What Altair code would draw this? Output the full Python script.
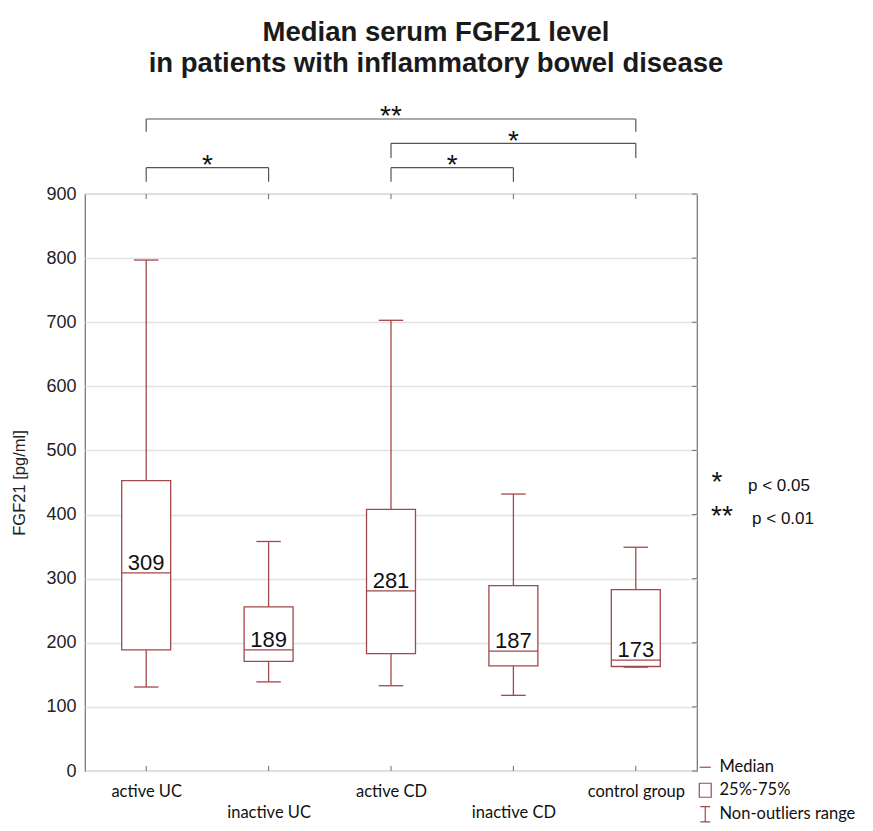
import altair as alt
import pandas as pd

# ---------------- data ----------------
categories = ["active UC", "inactive UC", "active CD", "inactive CD", "control group"]
whisker_low = [131, 139, 133, 118, 162]
q1 = [189, 171, 183, 164, 163]
median = [309, 189, 281, 187, 173]
q3 = [453, 256, 408, 289, 283]
whisker_high = [797, 358, 703, 432, 349]

# significance brackets (index of group pairs) and their labels
bracket_from = [0, 2, 2, 0]
bracket_to = [1, 3, 4, 4]
bracket_label = ["*", "*", "*", "**"]

sig_symbols = ["*", "**"]
sig_texts = ["p < 0.05", "p < 0.01"]

legend_labels = ["Median", "25%-75%", "Non-outliers range"]

y_ticks = [0, 100, 200, 300, 400, 500, 600, 700, 800, 900]

# ---------------- layout/style ----------------
RED = "#a3474a"
FRAME = "#6f6f6f"
W, H = 612, 577
BOX_HALF = 0.2
CAP_HALF = 0.1
bracket_level = [941, 941, 979, 1017]
bracket_end = [919, 919, 956, 997]
star_y = [931, 931, 969, 1008]

pos = list(range(len(categories)))
df = pd.DataFrame({
    "pos": pos, "cat": categories, "low": whisker_low, "q1": q1,
    "med": median, "q3": q3, "high": whisker_high,
})
df["xl"] = df["pos"] - BOX_HALF
df["xr"] = df["pos"] + BOX_HALF
df["cl"] = df["pos"] - CAP_HALF
df["cr"] = df["pos"] + CAP_HALF

xscale = alt.Scale(domain=[-0.5, 4.5], nice=False, zero=False)
yscale = alt.Scale(domain=[0, 900], nice=False, zero=False)

names_js = "[" + ",".join("'" + c + "'" for c in categories) + "]"
label_expr = (f"datum.value % 2 == 1 ? ['', {names_js}[datum.value]] : "
              f"{names_js}[datum.value]")

xaxis = alt.Axis(values=pos, labelExpr=label_expr, title=None, grid=False,
                 ticks=False, domain=False, labelFont="Lato", labelFontSize=16.5,
                 labelColor="#111", labelPadding=12, labelLineHeight=21,
                 labelBaseline="top", labelAngle=0)
yaxis = alt.Axis(values=y_ticks, title="FGF21 [pg/ml]", grid=True,
                 gridColor="#e3e3e3", gridWidth=1.5, ticks=False, domain=False,
                 labelFont="Liberation Sans", labelFontSize=18, labelColor="#222",
                 labelPadding=9, titleFont="Liberation Sans", titleFontSize=16.5,
                 titleFontWeight="normal", titleColor="#222", titlePadding=18)

base = alt.Chart(df)

boxes = base.mark_rect(fill="white", stroke=RED, strokeWidth=1.3).encode(
    x=alt.X("xl:Q", scale=xscale, axis=xaxis), x2="xr:Q",
    y=alt.Y("q1:Q", scale=yscale, axis=yaxis), y2="q3:Q")
whisk_lo = base.mark_rule(color=RED, strokeWidth=1.3).encode(
    x=alt.X("pos:Q", scale=xscale), y=alt.Y("low:Q", scale=yscale), y2="q1:Q")
whisk_hi = base.mark_rule(color=RED, strokeWidth=1.3).encode(
    x=alt.X("pos:Q", scale=xscale), y=alt.Y("q3:Q", scale=yscale), y2="high:Q")
cap_lo = base.mark_rule(color=RED, strokeWidth=1.3).encode(
    x=alt.X("cl:Q", scale=xscale), x2="cr:Q", y=alt.Y("low:Q", scale=yscale))
cap_hi = base.mark_rule(color=RED, strokeWidth=1.3).encode(
    x=alt.X("cl:Q", scale=xscale), x2="cr:Q", y=alt.Y("high:Q", scale=yscale))
med_line = base.mark_rule(color=RED, strokeWidth=1.3).encode(
    x=alt.X("xl:Q", scale=xscale), x2="xr:Q", y=alt.Y("med:Q", scale=yscale))
med_text = base.mark_text(font="Liberation Sans", fontSize=22, color="#111",
                          baseline="alphabetic", dy=-3).encode(
    x=alt.X("pos:Q", scale=xscale), y=alt.Y("med:Q", scale=yscale),
    text="med:Q")

# inward ticks on the frame
tick_df = pd.DataFrame({"pos": pos})
xt_bottom = alt.Chart(tick_df).mark_rule(color=FRAME).encode(
    x=alt.X("pos:Q", scale=xscale), y=alt.datum(0, scale=yscale), y2=alt.datum(8))
xt_top = alt.Chart(tick_df).mark_rule(color=FRAME).encode(
    x=alt.X("pos:Q", scale=xscale), y=alt.datum(892, scale=yscale), y2=alt.datum(900))
ytick_df = pd.DataFrame({"v": y_ticks})
yt_right = alt.Chart(ytick_df).mark_rule(color=FRAME).encode(
    x=alt.datum(4.46, scale=xscale), x2=alt.datum(4.5),
    y=alt.Y("v:Q", scale=yscale))

# significance brackets
bdf = pd.DataFrame({"a": bracket_from, "b": bracket_to, "lab": bracket_label,
                    "lvl": bracket_level, "end": bracket_end, "sy": star_y})
bdf["mid"] = (bdf["a"] + bdf["b"]) / 2
bbase = alt.Chart(bdf)
b_h = bbase.mark_rule(color="#555", strokeWidth=1.2).encode(
    x=alt.X("a:Q", scale=xscale), x2="b:Q", y=alt.Y("lvl:Q", scale=yscale))
b_l = bbase.mark_rule(color="#555", strokeWidth=1.2).encode(
    x=alt.X("a:Q", scale=xscale), y=alt.Y("end:Q", scale=yscale), y2="lvl:Q")
b_r = bbase.mark_rule(color="#555", strokeWidth=1.2).encode(
    x=alt.X("b:Q", scale=xscale), y=alt.Y("end:Q", scale=yscale), y2="lvl:Q")
b_t = bbase.mark_text(font="Liberation Sans", fontSize=28, color="#111",
                      baseline="alphabetic").encode(
    x=alt.X("mid:Q", scale=xscale), y=alt.Y("sy:Q", scale=yscale), text="lab:N")

# significance key
sdf = pd.DataFrame({"sym": sig_symbols, "txt": sig_texts,
                    "sx": [4.663, 4.704], "sy": [436, 383],
                    "tx": [4.917, 4.95], "ty": [445, 393]})
s_sym = alt.Chart(sdf).mark_text(font="Liberation Sans", fontSize=28, color="#111",
                                 baseline="alphabetic").encode(
    x=alt.X("sx:Q", scale=xscale), y=alt.Y("sy:Q", scale=yscale), text="sym:N")
s_txt = alt.Chart(sdf).mark_text(font="Liberation Sans", fontSize=17, color="#111",
                                 baseline="middle", align="left").encode(
    x=alt.X("tx:Q", scale=xscale), y=alt.Y("ty:Q", scale=yscale), text="txt:N")

# box legend
ldf = pd.DataFrame({"item": legend_labels, "px": [0, 0, 0], "py": [0, 0, 0]})
shape_range = ["M-0.8,0H0.8", "M-0.85,-1H0.85V1H-0.85Z",
               "M-0.7,-1.1H0.7M0,-1.1V1.1M-0.7,1.1H0.7"]
leg = alt.Chart(ldf).mark_point(filled=False, opacity=0, color=RED).encode(
    x=alt.X("px:Q", scale=xscale), y=alt.Y("py:Q", scale=yscale),
    shape=alt.Shape("item:N", scale=alt.Scale(domain=legend_labels, range=shape_range),
                    legend=alt.Legend(title=None, orient="none", legendX=612,
                                      legendY=565, symbolSize=196,
                                      symbolOpacity=1, symbolStrokeColor=RED,
                                      symbolFillColor="white", symbolStrokeWidth=1.2,
                                      labelFont="Lato", labelFontSize=16.5,
                                      labelColor="#111", rowPadding=4,
                                      labelOffset=6, padding=0)))

chart = alt.layer(
    boxes, whisk_lo, whisk_hi, cap_lo, cap_hi, med_line, med_text,
    xt_bottom, xt_top, yt_right, b_h, b_l, b_r, b_t, s_sym, s_txt, leg,
).properties(
    width=W, height=H,
    title=alt.TitleParams(
        text=["Median serum FGF21 level",
              "in patients with inflammatory bowel disease"],
        font="Liberation Sans", fontSize=27.5, fontWeight="bold",
        color="#1a1a1a", anchor="middle", dx=45, offset=25, lineHeight=31),
    autosize=alt.AutoSizeParams(type="none"),
    padding={"left": 77, "top": 186, "right": 168, "bottom": 52},
).configure_view(stroke=FRAME, strokeWidth=1.2)

chart.save("out.html", embed_options={"renderer": "svg", "actions": False})
